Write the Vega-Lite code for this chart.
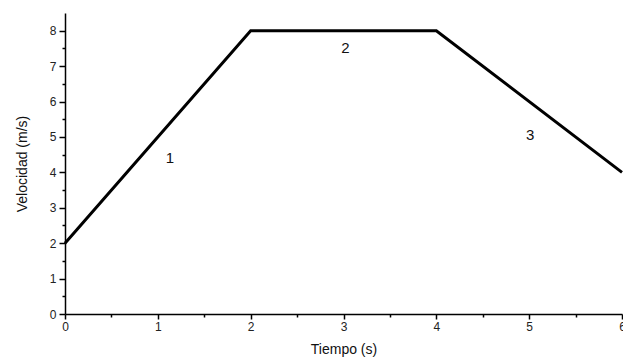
{
  "$schema": "https://vega.github.io/schema/vega-lite/v6.json",
  "width": 557,
  "height": 301,
  "autosize": {"type": "none"},
  "padding": {"left": 65, "top": 13, "right": 1, "bottom": 49},
  "background": "white",
  "datasets": {
    "line": [
      {"t": 0, "v": 2},
      {"t": 2, "v": 8},
      {"t": 4, "v": 8},
      {"t": 6, "v": 4}
    ],
    "labels": [
      {"t": 1.13, "v": 4.4, "label": "1"},
      {"t": 3.02, "v": 7.5, "label": "2"},
      {"t": 5.01, "v": 5.05, "label": "3"}
    ]
  },
  "config": {
    "view": {"stroke": null},
    "axis": {
      "grid": false,
      "domainColor": "#000",
      "domainWidth": 1.5,
      "tickColor": "#000",
      "tickWidth": 1.5,
      "labelColor": "#222",
      "labelFont": "Liberation Sans",
      "labelFontSize": 12,
      "titleFont": "Liberation Sans",
      "titleFontWeight": "normal",
      "titleFontSize": 14,
      "titleColor": "#111"
    }
  },
  "resolve": {"axis": {"x": "independent", "y": "independent"}},
  "layer": [
    {
      "data": {"name": "line"},
      "mark": {"type": "line", "color": "#000", "strokeWidth": 3},
      "encoding": {
        "x": {
          "field": "t", "type": "quantitative",
          "scale": {"domain": [0, 6], "nice": false},
          "axis": {"orient": "bottom", "values": [0, 1, 2, 3, 4, 5, 6], "tickSize": 5, "labelPadding": 2, "title": "Tiempo (s)", "titlePadding": 10, "labelFlush": false}
        },
        "y": {
          "field": "v", "type": "quantitative",
          "scale": {"domain": [0, 8.5], "nice": false},
          "axis": {"orient": "left", "values": [0, 1, 2, 3, 4, 5, 6, 7, 8], "tickSize": 6, "labelPadding": 3, "title": "Velocidad (m/s)", "titlePadding": 20}
        }
      }
    },
    {
      "data": {"name": "labels"},
      "mark": {"type": "text", "font": "Liberation Sans", "fontSize": 15, "color": "#111"},
      "encoding": {
        "x": {
          "field": "t", "type": "quantitative",
          "axis": {"orient": "bottom", "values": [0.5, 1.5, 2.5, 3.5, 4.5, 5.5], "tickSize": 3, "labels": false, "domain": false, "title": null}
        },
        "y": {
          "field": "v", "type": "quantitative",
          "axis": {"orient": "left", "values": [0.5, 1.5, 2.5, 3.5, 4.5, 5.5, 6.5, 7.5], "tickSize": 3, "labels": false, "domain": false, "title": null}
        },
        "text": {"field": "label"}
      }
    }
  ]
}
